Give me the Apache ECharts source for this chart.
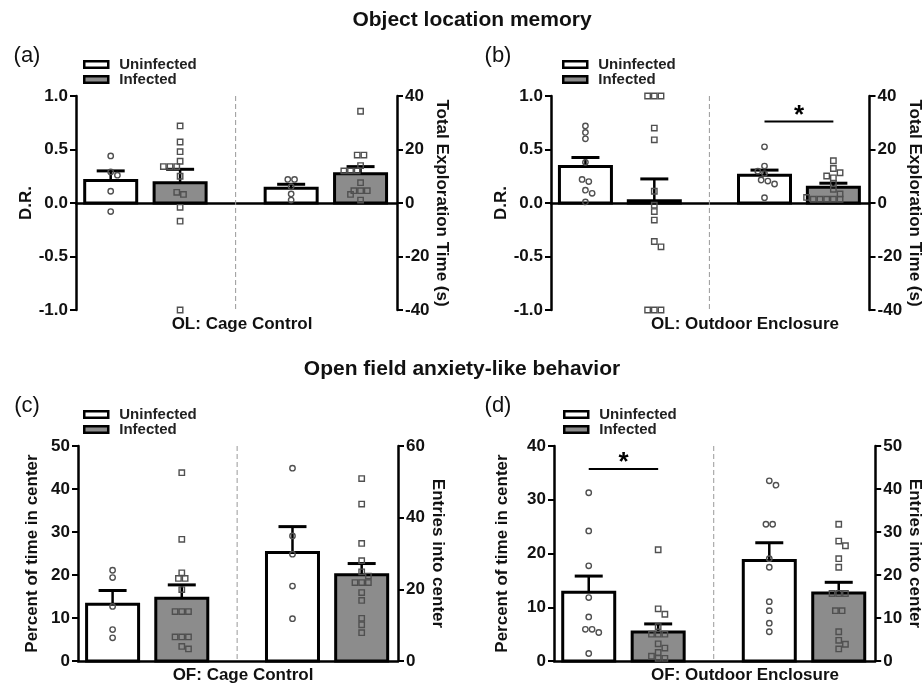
<!DOCTYPE html>
<html>
<head>
<meta charset="utf-8">
<script src="https://cdn.jsdelivr.net/npm/echarts/dist/echarts.min.js"></script>
<style>
  html, body { margin: 0; padding: 0; background: #fff; }
  #chart { width: 924px; height: 686px; }
</style>
</head>
<body>
<div id="chart"></div>
<script>
var groups = ['Uninfected', 'Infected'];

// (a) OL: cage control -- discrimination ratio (left) and exploration time (right)
var aDrMean = [0.21, 0.19];
var aDrSem = [0.09, 0.125];
var aDrU = [0.44, 0.29, 0.26, 0.11, -0.08];
var aDrI = [0.72, 0.57, 0.48, 0.39, 0.34, 0.34, 0.34, 0.25, 0.10, 0.08, -0.04, -0.17, -1.0];
var aTimeMean = [5.5, 10.9];
var aTimeSem = [1.5, 2.7];
var aTimeU = [8.8, 8.8, 6.1, 3.4, 1.1];
var aTimeI = [34.3, 17.9, 17.9, 14.0, 12.0, 12.0, 12.0, 7.6, 4.6, 4.6, 4.6, 3.2, 1.1];

// (b) OL: outdoor enclosure
var bDrMean = [0.34, 0.02];
var bDrSem = [0.085, 0.205];
var bDrU = [0.72, 0.66, 0.60, 0.38, 0.22, 0.20, 0.12, 0.09, 0.01];
var bDrI = [1.0, 1.0, 1.0, 0.70, 0.59, 0.11, -0.02, -0.08, -0.16, -0.36, -0.41, -1.0, -1.0, -1.0];
var bTimeMean = [10.4, 5.9];
var bTimeSem = [1.9, 1.5];
var bTimeU = [21.0, 13.8, 11.9, 11.0, 8.6, 8.2, 7.1, 2.0];
var bTimeI = [15.8, 12.9, 11.3, 10.1, 9.4, 7.3, 5.1, 3.4, 2.1, 1.4, 1.4, 1.4, 1.4, 1.4];
var bSig = 30.5;

// (c) OF: cage control -- % time in center (left) and entries (right)
var cPctMean = [13.2, 14.6];
var cPctSem = [3.2, 3.1];
var cPctU = [21.1, 19.4, 12.7, 7.3, 5.4];
var cPctI = [43.8, 28.3, 20.5, 19.2, 19.2, 16.6, 11.5, 11.5, 11.5, 5.6, 5.6, 5.6, 3.4, 2.8];
var cEntMean = [30.3, 24.1];
var cEntSem = [7.2, 3.1];
var cEntU = [53.8, 34.9, 29.8, 20.9, 11.8];
var cEntI = [50.9, 43.8, 32.8, 28.0, 24.9, 23.7, 21.9, 21.9, 21.9, 19.1, 16.9, 11.9, 10.1, 7.9];

// (d) OF: outdoor enclosure
var dPctMean = [12.8, 5.4];
var dPctSem = [3.0, 1.5];
var dPctU = [31.3, 24.2, 17.7, 11.8, 8.2, 5.9, 5.9, 5.3, 1.4];
var dPctI = [20.7, 9.7, 8.7, 6.4, 5.0, 5.0, 5.0, 3.2, 2.4, 1.6, 0.9, 0.5, 0.5];
var dEntMean = [23.4, 15.8];
var dEntSem = [4.1, 2.5];
var dEntU = [41.9, 40.9, 31.8, 31.8, 23.8, 21.8, 13.8, 11.7, 8.8, 6.8];
var dEntI = [31.8, 27.9, 26.8, 23.8, 21.8, 15.7, 15.7, 15.7, 11.7, 11.7, 6.8, 4.8, 3.9, 2.8];
var dSig = 35.7;

var FONT = '"Liberation Sans", Arial, sans-serif';
var GRAY = '#8c8c8c';
var fills = ['#ffffff', GRAY];
var slots = [1, 3, 6.2, 8.2];   // bar centres on the hidden x scale
var divider = 4.6, xMax = 9.25;

var panels = [
  { grid: {left: 76, right: 527, top: 96, bottom: 376}, legend: {left: 83, top: 57},
    left:  {name: 'D.R.', min: -1, max: 1, interval: 0.5, dec: 1, gap: 38, mean: aDrMean, sem: aDrSem, pts: [aDrU, aDrI]},
    right: {name: 'Total Exploration Time (s)', min: -40, max: 40, interval: 20, dec: 0, gap: 29, mean: aTimeMean, sem: aTimeSem, pts: [aTimeU, aTimeI]},
    sig: null },
  { grid: {left: 551, right: 50, top: 96, bottom: 376}, legend: {left: 562, top: 57},
    left:  {name: 'D.R.', min: -1, max: 1, interval: 0.5, dec: 1, gap: 40, mean: bDrMean, sem: bDrSem, pts: [bDrU, bDrI]},
    right: {name: 'Total Exploration Time (s)', min: -40, max: 40, interval: 20, dec: 0, gap: 31, mean: bTimeMean, sem: bTimeSem, pts: [bTimeU, bTimeI]},
    sig: {axis: 1, from: 2, to: 3, level: bSig} },
  { grid: {left: 78, right: 526, top: 446, bottom: 25}, legend: {left: 83, top: 407},
    left:  {name: 'Percent of time in center', min: 0, max: 50, interval: 10, dec: 0, gap: 37, mean: cPctMean, sem: cPctSem, pts: [cPctU, cPctI]},
    right: {name: 'Entries into center', min: 0, max: 60, interval: 20, dec: 0, gap: 30, mean: cEntMean, sem: cEntSem, pts: [cEntU, cEntI]},
    sig: null },
  { grid: {left: 554, right: 47, top: 446, bottom: 25}, legend: {left: 563, top: 407},
    left:  {name: 'Percent of time in center', min: 0, max: 40, interval: 10, dec: 0, gap: 43, mean: dPctMean, sem: dPctSem, pts: [dPctU, dPctI]},
    right: {name: 'Entries into center', min: 0, max: 50, interval: 10, dec: 0, gap: 29, mean: dEntMean, sem: dEntSem, pts: [dEntU, dEntI]},
    sig: {axis: 0, from: 0, to: 1, level: dSig} }
];

// spread points that sit at the same height, like a prism scatter
function swarm(ys, d) {
  var order = ys.map(function (_, i) { return i; }).sort(function (a, b) { return ys[a] - ys[b]; });
  var rows = [];
  order.forEach(function (i) {
    var last = rows[rows.length - 1];
    if (last && Math.abs(ys[i] - ys[last[0]]) < 2.5) last.push(i); else rows.push([i]);
  });
  var placed = [], off = [];
  var shifts = [0, d / 2, -d / 2, d, -d, 1.5 * d, -1.5 * d];
  rows.forEach(function (row) {
    var n = row.length;
    for (var s = 0; s < shifts.length; s++) {
      var xs = row.map(function (_, k) { return (k - (n - 1) / 2) * d + shifts[s]; });
      var ok = true;
      for (var k = 0; k < n && ok; k++) {
        for (var q = 0; q < placed.length; q++) {
          if (Math.abs(placed[q][1] - ys[row[k]]) < 5.5 && Math.abs(placed[q][0] - xs[k]) < 6) { ok = false; break; }
        }
      }
      if (ok || s === shifts.length - 1) {
        row.forEach(function (i, k) { off[i] = xs[k]; placed.push([xs[k], ys[i]]); });
        break;
      }
    }
  });
  return off;
}

function renderBar(params, api) {
  var x = api.value(0), m = api.value(1), e = api.value(2);
  var base = api.coord([x, 0]), top = api.coord([x, m]), err = api.coord([x, m + e]);
  var w = 52, cap = 28;
  return {
    type: 'group',
    children: [
      {type: 'rect', shape: {x: base[0] - w / 2, y: Math.min(top[1], base[1]), width: w, height: Math.abs(base[1] - top[1])},
        style: {fill: api.visual('color'), stroke: '#000', lineWidth: 3}},
      {type: 'line', shape: {x1: top[0], y1: top[1], x2: err[0], y2: err[1]}, style: {stroke: '#000', lineWidth: 2.5}},
      {type: 'line', shape: {x1: err[0] - cap / 2, y1: err[1], x2: err[0] + cap / 2, y2: err[1]}, style: {stroke: '#000', lineWidth: 3}}
    ]
  };
}

function pointRenderer(vals, shape) {
  return function (params, api) {
    var x = api.value(0);
    var ys = vals.map(function (v) { return api.coord([x, v])[1]; });
    var off = swarm(ys, 6.7);
    var c = api.coord([x, api.value(1)]);
    var cx = c[0] + off[params.dataIndex], cy = c[1];
    var st = {fill: 'none', stroke: '#505050', lineWidth: 1.4};
    if (shape === 'circle') return {type: 'circle', shape: {cx: cx, cy: cy, r: 2.7}, style: st};
    return {type: 'rect', shape: {x: cx - 2.7, y: cy - 2.7, width: 5.4, height: 5.4}, style: st};
  };
}

function annotRenderer(p) {
  return function (params, api) {
    var ax = p.sig && p.sig.axis ? p.right : p.left;
    var t = api.coord([divider, ax.max]), b = api.coord([divider, ax.min]);
    var kids = [{type: 'line', shape: {x1: t[0], y1: t[1], x2: b[0], y2: b[1]},
      style: {stroke: '#999', lineWidth: 1, lineDash: [5, 3]}}];
    if (p.sig) {
      var a1 = api.coord([slots[p.sig.from], p.sig.level]), a2 = api.coord([slots[p.sig.to], p.sig.level]);
      kids.push({type: 'line', shape: {x1: a1[0], y1: a1[1], x2: a2[0], y2: a2[1]}, style: {stroke: '#000', lineWidth: 2}});
      kids.push({type: 'text', style: {text: '*', x: (a1[0] + a2[0]) / 2, y: a1[1] - 6, font: 'bold 26px ' + FONT,
        textAlign: 'center', textVerticalAlign: 'middle', fill: '#000'}});
    }
    return {type: 'group', children: kids};
  };
}

var option = {
  animation: false,
  backgroundColor: '#fff',
  textStyle: {fontFamily: FONT},
  grid: [], xAxis: [], yAxis: [], legend: [], series: []
};

panels.forEach(function (p, i) {
  option.grid.push(p.grid);
  option.xAxis.push({
    type: 'value', gridIndex: i, min: 0, max: xMax,
    axisLine: {onZero: true, onZeroAxisIndex: 2 * i, lineStyle: {color: '#000', width: 2.5}},
    axisTick: {show: false}, axisLabel: {show: false}, splitLine: {show: false}
  });
  ['left', 'right'].forEach(function (side, s) {
    var ax = p[side];
    var yIdx = 2 * i + s;
    option.yAxis.push({
      type: 'value', gridIndex: i, position: side, min: ax.min, max: ax.max, interval: ax.interval,
      name: ax.name, nameLocation: 'middle', nameRotate: s ? -90 : 90, nameGap: ax.gap,
      nameTextStyle: {fontSize: 17, fontWeight: 'bold', color: '#111', fontFamily: FONT},
      axisLine: {show: true, onZero: false, lineStyle: {color: '#000', width: 2.5}},
      axisTick: {show: true, length: 6, lineStyle: {color: '#000', width: 2}},
      axisLabel: {fontSize: 17, fontWeight: 'bold', color: '#111', margin: 8, fontFamily: FONT,
        formatter: function (v) { return v.toFixed(ax.dec); }},
      splitLine: {show: false}
    });
    groups.forEach(function (g, k) {
      var x = slots[2 * s + k];
      option.series.push({
        type: 'custom', name: g, xAxisIndex: i, yAxisIndex: yIdx, z: 2,
        itemStyle: {color: fills[k]},
        data: [[x, ax.mean[k], ax.sem[k]]],
        renderItem: renderBar
      });
      option.series.push({
        type: 'custom', name: g + ' animals', xAxisIndex: i, yAxisIndex: yIdx, z: 3,
        data: ax.pts[k].map(function (v) { return [x, v]; }),
        renderItem: pointRenderer(ax.pts[k], k ? 'square' : 'circle')
      });
    });
  });
  option.series.push({
    type: 'custom', xAxisIndex: i, yAxisIndex: 2 * i + (p.sig ? p.sig.axis : 0), z: 1, silent: true,
    data: [[divider, 0]], renderItem: annotRenderer(p)
  });
  option.legend.push({
    orient: 'vertical', left: p.legend.left, top: p.legend.top, padding: 0, itemGap: 0,
    itemWidth: 24, itemHeight: 6.5, icon: 'rect', selectedMode: false,
    itemStyle: {borderColor: '#000', borderWidth: 2.5},
    textStyle: {fontSize: 15, fontWeight: 'bold', color: '#222', fontFamily: FONT, padding: [0, 0, 0, 6], lineHeight: 15},
    data: [{name: 'Uninfected', itemStyle: {color: '#fff'}}, {name: 'Infected', itemStyle: {color: GRAY}}]
  });
});

var labels = [
  ['Object location memory', 472, 20, 'bold 21px'],
  ['Open field anxiety-like behavior', 462, 369, 'bold 21px'],
  ['(a)', 27, 56, '22px'],
  ['(b)', 498, 56, '22px'],
  ['(c)', 27, 406, '22px'],
  ['(d)', 498, 406, '22px'],
  ['OL: Cage Control', 242, 324, 'bold 17px'],
  ['OL: Outdoor Enclosure', 745, 324, 'bold 17px'],
  ['OF: Cage Control', 243, 675, 'bold 17px'],
  ['OF: Outdoor Enclosure', 745, 675, 'bold 17px']
];
option.graphic = labels.map(function (t) {
  return {type: 'text', x: t[1], y: t[2], silent: true,
    style: {text: t[0], font: t[3] + ' ' + FONT, textAlign: 'center', textVerticalAlign: 'middle', fill: '#111'}};
});

var chart = echarts.init(document.getElementById('chart'));
chart.setOption(option);
</script>
</body>
</html>
